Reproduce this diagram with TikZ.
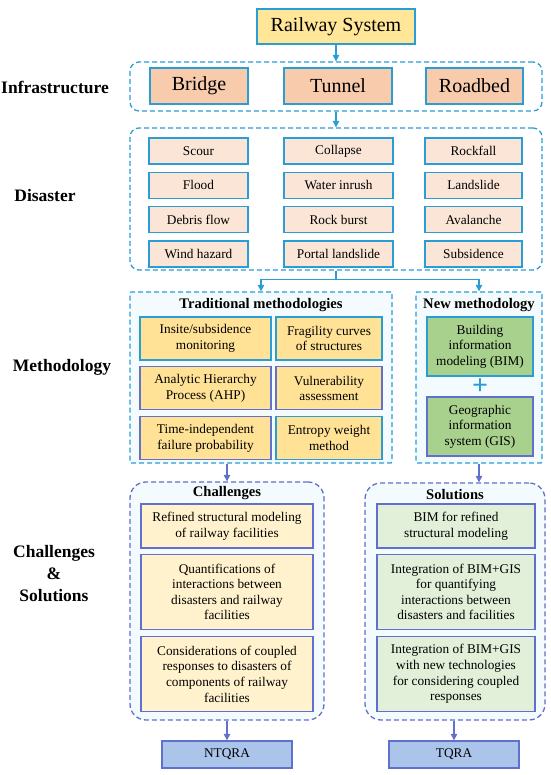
\documentclass[tikz,border=0pt]{standalone}
\usepackage{fontspec}
\setmainfont{Liberation Serif}
\usetikzlibrary{arrows.meta, positioning}

\definecolor{lineblue}{RGB}{41,157,212}
\definecolor{linepurple}{RGB}{96,112,204}
\definecolor{sysyellow}{RGB}{255,230,153}
\definecolor{infrapeach}{RGB}{248,203,173}
\definecolor{hazardpeach}{RGB}{251,229,214}
\definecolor{tradgold}{RGB}{255,226,150}
\definecolor{bimgreen}{RGB}{169,209,142}
\definecolor{chalyellow}{RGB}{255,242,204}
\definecolor{solgreen}{RGB}{226,240,217}
\definecolor{qrablue}{RGB}{170,196,234}
\definecolor{groupfill}{RGB}{244,251,254}

\tikzset{
  box/.style={draw=lineblue, line width=1.3pt, rectangle, inner sep=0pt, align=center,
    font={\fontsize{13.3}{15.6}\selectfont}},
  pbox/.style={box, draw=linepurple},
  grp/.style={draw=lineblue, line width=1.3pt, dash pattern=on 5pt off 3pt,
    rectangle, rounded corners=9pt, inner sep=0pt},
  pgrp/.style={grp, draw=linepurple, fill=groupfill, rounded corners=16pt},
  gtitle/.style={font={\bfseries\fontsize{14.6}{17}\selectfont}, inner sep=0pt},
  lbl/.style={font={\bfseries\fontsize{17.5}{22}\selectfont}, align=center, inner sep=0pt},
  arrc/.style={draw=lineblue, line width=1.3pt, -{Triangle[length=6.5pt,width=6.5pt]}},
  arrp/.style={arrc, draw=linepurple},
}

\begin{document}
\begin{tikzpicture}[x=1pt, y=1pt]
\useasboundingbox (0,0) rectangle (550,775);
% --- top ---
\node[box, fill=sysyellow, minimum width=158pt, minimum height=35pt,
  font={\fontsize{20}{24}\selectfont}] (rail) at (336,748.5) {Railway System};
% --- infrastructure ---
\node[grp, minimum width=412pt, minimum height=49pt] (infra) at (336,688.5) {};
\tikzset{infbox/.style={box, fill=infrapeach, minimum height=36pt, font={\fontsize{20}{24}\selectfont}}}
\node[infbox, minimum width=98pt] (bridge) at (199,689) {Bridge};
\node[infbox, minimum width=108pt] (tunnel) at (338,689) {Tunnel};
\node[infbox, minimum width=97pt] (roadbed) at (474.5,689) {Roadbed};
\node[lbl] (lblinfra) at (55,688) {Infrastructure};
% --- disaster ---
\node[grp, minimum width=412pt, minimum height=142pt] (dis) at (336,576) {};
\tikzset{hzbox/.style={box, fill=hazardpeach, minimum height=26pt}}
\node[hzbox, minimum width=99pt] (scour) at (198.5,624) {Scour};
\node[hzbox, minimum width=99pt, below=7pt of scour] (flood) {Flood};
\node[hzbox, minimum width=99pt, below=7pt of flood] (debris) {Debris flow};
\node[hzbox, minimum width=99pt, below=7pt of debris] (wind) {Wind hazard};
\node[hzbox, minimum width=109pt] (collapse) at (338.5,624) {Collapse};
\node[hzbox, minimum width=109pt, below=7pt of collapse] (inrush) {Water inrush};
\node[hzbox, minimum width=109pt, below=7pt of inrush] (burst) {Rock burst};
\node[hzbox, minimum width=109pt, below=7pt of burst] (portal) {Portal landslide};
\node[hzbox, minimum width=97pt] (rockfall) at (473.5,624) {Rockfall};
\node[hzbox, minimum width=97pt, below=7pt of rockfall] (landslide) {Landslide};
\node[hzbox, minimum width=97pt, below=7pt of landslide] (avalanche) {Avalanche};
\node[hzbox, minimum width=97pt, below=7pt of avalanche] (subsidence) {Subsidence};
\node[lbl] (lbldis) at (45,579) {Disaster};
% --- methodology ---
\node[grp, fill=groupfill, rounded corners=1pt, minimum width=262pt, minimum height=171pt] (trad) at (261,397.5) {};
\node[gtitle] (tradtitle) at (261,470) {Traditional methodologies};
\tikzset{tdbox/.style={box, fill=tradgold, minimum height=43pt}}
\node[tdbox, minimum width=131pt] (insite) at (205.5,436.5) {Insite/subsidence\\monitoring};
\node[tdbox, draw=linepurple, minimum width=131pt, below=5.5pt of insite] (ahp) {Analytic Hierarchy\\Process (AHP)};
\node[tdbox, draw=linepurple, minimum width=131pt, below=5.5pt of ahp] (timeind) {Time-independent\\failure probability};
\node[tdbox, minimum width=106pt] (fragility) at (329,436.5) {Fragility curves\\of structures};
\node[tdbox, draw=linepurple, minimum width=106pt, below=5.5pt of fragility] (vulner) {Vulnerability\\assessment};
\node[tdbox, minimum width=106pt, below=5.5pt of vulner] (entropy) {Entropy weight\\method};
\node[grp, fill=groupfill, rounded corners=1pt, minimum width=126pt, minimum height=171pt] (new) at (479,397.5) {};
\node[gtitle] (newtitle) at (479,470) {New methodology};
\node[box, fill=bimgreen, minimum width=106pt, minimum height=59pt] (bim) at (480,428.5) {Building\\information\\modeling (BIM)};
\node[font={\bfseries\fontsize{28}{28}\selectfont}, text=lineblue, inner sep=0pt] (plus) at (480,388) {+};
\node[pbox, fill=bimgreen, minimum width=106pt, minimum height=59pt] (gis) at (480,348.5) {Geographic\\information\\system (GIS)};
\node[lbl] (lblmeth) at (62,408) {Methodology};
% --- challenges & solutions ---
\node[pgrp, minimum width=194pt, minimum height=238pt] (chal) at (227,174) {};
\node[gtitle] (chaltitle) at (227,282) {Challenges};
\node[pbox, fill=chalyellow, minimum width=172pt, minimum height=44pt] (ch1) at (227,249) {Refined structural modeling\\of railway facilities};
\node[pbox, fill=chalyellow, minimum width=172pt, minimum height=75pt, below=5pt of ch1] (ch2) {Quantifications of\\interactions between\\disasters and railway\\facilities};
\node[pbox, fill=chalyellow, minimum width=172pt, minimum height=75pt, below=6pt of ch2] (ch3) {Considerations of coupled\\responses to disasters of\\components of railway\\facilities};
\node[pgrp, minimum width=180pt, minimum height=237pt] (sol) at (455,173.5) {};
\node[gtitle] (soltitle) at (455,280) {Solutions};
\node[pbox, fill=solgreen, minimum width=158pt, minimum height=44pt] (so1) at (456,249) {BIM for refined\\structural modeling};
\node[pbox, fill=solgreen, minimum width=158pt, minimum height=75pt, below=5pt of so1] (so2) {Integration of BIM+GIS\\for quantifying\\interactions between\\disasters and facilities};
\node[pbox, fill=solgreen, minimum width=158pt, minimum height=75pt, below=6pt of so2] (so3) {Integration of BIM+GIS\\with new technologies\\for considering coupled\\responses};
\node[lbl] (lblchal) at (54,201) {Challenges\\\&\\Solutions};
% --- results ---
\node[pbox, fill=qrablue, minimum width=130pt, minimum height=27pt] (ntqra) at (227,20.5) {NTQRA};
\node[pbox, fill=qrablue, minimum width=130pt, minimum height=27pt] (tqra) at (454,20.5) {TQRA};
% --- connectors ---
\draw[arrc] (rail) -- (infra);
\draw[arrc] (infra) -- (dis);
\draw[draw=lineblue, line width=1.3pt] (dis.south) -- ++(0,-9) coordinate (split);
\draw[arrc] (split) -| (trad.north);
\draw[arrc] (split) -| (new.north);
\draw[arrp] (trad.south -| chal.north) -- (chal.north);
\draw[arrp] (new.south) -- (new.south |- sol.north);
\draw[arrp] (chal.south) -- (ntqra.north);
\draw[arrp] (tqra.north |- sol.south) -- (tqra.north);
\end{tikzpicture}
\end{document}
